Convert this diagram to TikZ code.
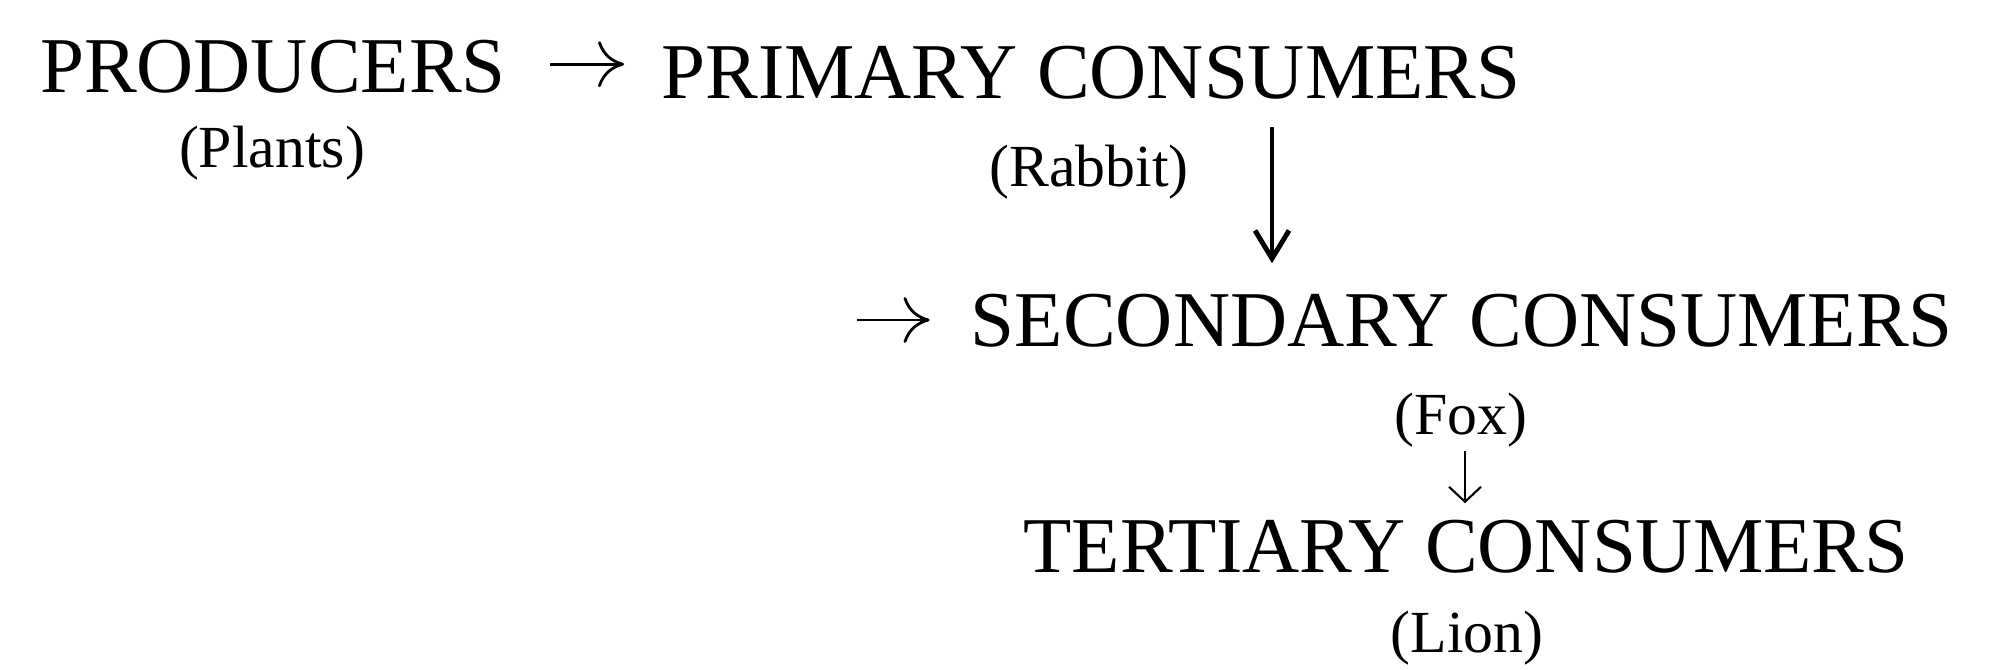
\documentclass[tikz,border=0pt]{standalone}
\usepackage{fontspec}
\setmainfont{Liberation Serif}
\usepackage{tikz}
\usetikzlibrary{arrows.meta, positioning, calc}

\begin{document}
\begin{tikzpicture}[thick]
    % Styles
    \tikzstyle{level} = [inner sep=0pt, anchor=base, font=\fontsize{22.5}{27}\selectfont]
    \tikzstyle{animal} = [inner sep=0pt, anchor=base, font=\fontsize{17}{20}\selectfont]
    \tikzstyle{flow} = [draw, line width=0.8pt, -{Computer Modern Rightarrow[length=2.6mm, width=4.6mm]}]
    \tikzstyle{drop} = [draw, line width=1.1pt, -{Straight Barb[length=2.8mm, width=3.4mm, line width=1.4pt]}]
    \tikzstyle{smalldrop} = [draw, line width=0.6pt, -{Straight Barb[length=1.5mm, width=3.2mm]}]

    \useasboundingbox (0,0) rectangle (19.92,-6.70);

    % Nodes
    \node [level] (prod) at (2.73,-0.93) {PRODUCERS};
    \node [level] (prim) at (10.91,-0.99) {PRIMARY CONSUMERS};
    \node [level] (sec) at (14.62,-3.46) {SECONDARY CONSUMERS};
    \node [level] (ter) at (14.66,-5.72) {TERTIARY CONSUMERS};

    \node [animal] (plants) at (2.72,-1.68) {(Plants)};
    \node [animal] (rabbit) at (10.89,-1.87) {(Rabbit)};
    \node [animal] (fox) at (14.61,-4.34) {(Fox)};
    \node [animal] (lion) at (14.67,-6.52) {(Lion)};

    \coordinate (drop1) at (12.72,0);
    \coordinate (feed) at (8.57,-3.20);

    % Edges
    \draw [flow, shorten <=0.43cm, shorten >=0.36cm] ([yshift=0.03cm]prod.east) -- ([yshift=0.03cm]prod.east -| prim.west);
    \draw [drop, shorten <=0.26cm, shorten >=0.29cm] (prim.south -| drop1) -- (sec.north -| drop1);
    \draw [flow, shorten >=0.40cm] (feed) -- (feed -| sec.west);
    \draw [smalldrop, shorten <=0.03cm, shorten >=0.15cm] ([xshift=0.04cm]fox.south) -- ([xshift=0.04cm]fox.south |- ter.north);
\end{tikzpicture}
\end{document}
